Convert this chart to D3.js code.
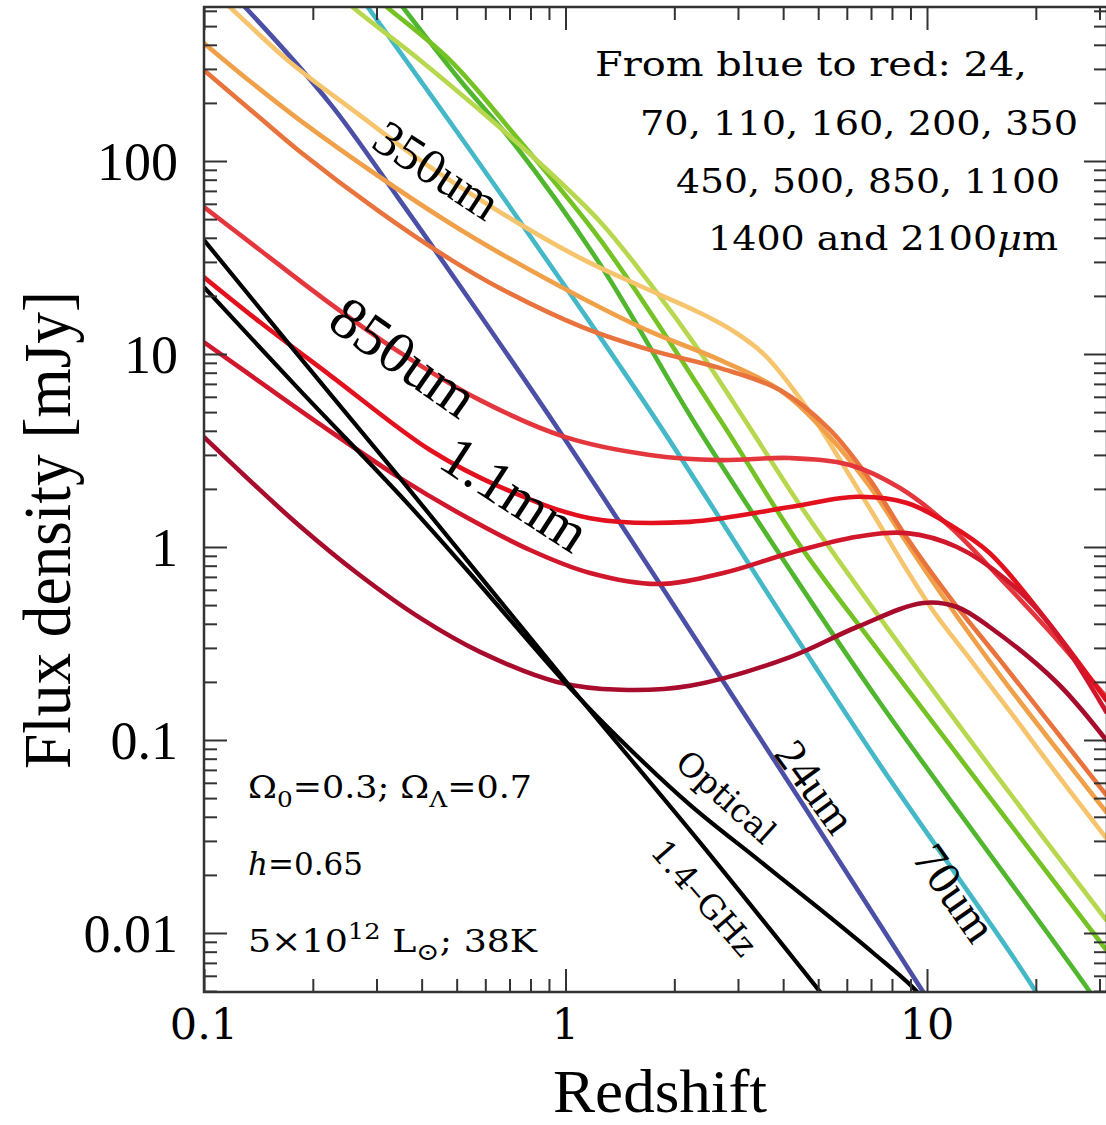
<!DOCTYPE html>
<html>
<head>
<meta charset="utf-8">
<script src="https://cdn.jsdelivr.net/npm/d3@7"></script>
<style>
  html, body { margin: 0; padding: 0; background: #fff; }
  svg { display: block; }
</style>
</head>
<body>
<svg id="chart" width="1106" height="1125"></svg>
<script>
// ---- Data: [redshift, flux density in mJy] ----
const bands = ["24", "70", "110", "160", "200", "350", "450", "500", "850", "1100", "1400", "2100"];
const bandColors = ["#4b4fa5", "#45b8c8", "#4fb62e", "#74c224", "#b7d74e", "#f7c46e",
                    "#f0a048", "#e9733c", "#e4373d", "#e2111d", "#d0172c", "#a70c2c"];

const s24   = [[0.1,1030],[0.130,626],[0.223,199],[0.348,62.7],[0.544,19.0],[0.966,3.94],[1.95,0.531],[4.45,0.049],[9.75,0.00496],[11,0.0035]];
const s70   = [[0.25,870],[0.284,626],[0.544,114],[1.05,19.5],[1.79,4.49],[4.18,0.380],[7.41,0.0743],[20.0,0.00496],[22,0.0035]];
const s110  = [[0.3,940],[0.355,626],[0.511,262],[0.725,121],[1.25,28.9],[2.25,4.55],[4.18,0.760],[7.41,0.156],[28.2,0.00496],[31.5,0.0036]];
const s160  = [[0.3,700],[0.321,626],[0.479,333],[0.725,136],[1.25,38.9],[2.68,4.55],[4.45,1.02],[7.41,0.283],[31.3,0.00818]];
const s200  = [[0.2,950],[0.258,626],[0.396,333],[0.580,183],[0.850,97.4],[1.25,48.2],[1.71,23.3],[2.36,10.2],[3.24,4.13],[4.45,1.65],[7.41,0.429],[15.9,0.0621],[31.3,0.0117]];
const s350  = [[0.1,830],[0.118,626],[0.173,325],[0.265,177],[0.396,101],[0.646,55.6],[1.10,31.4],[1.61,22.5],[2.36,16.3],[2.94,13.0],[3.56,9.87],[4.18,6.90],[4.90,4.55],[5.93,2.57],[7.18,1.43],[8.69,0.788],[10.5,0.455],[13.2,0.260],[17.0,0.140],[23.3,0.0636],[31.3,0.0311]];
const s450  = [[0.1,408],[0.134,259],[0.184,163],[0.307,82.4],[0.479,47.6],[0.659,33.3],[1.10,19.7],[1.71,13.1],[2.68,9.30],[3.92,6.50],[5.39,3.71],[6.96,2.05],[8.69,1.087],[11.1,0.551],[15.9,0.217],[31.3,0.0424]];
const s500  = [[0.1,295],[0.143,167],[0.184,112],[0.307,54.3],[0.479,31.0],[0.659,21.9],[1.10,13.9],[1.71,10.5],[2.68,8.45],[3.92,6.50],[5.39,4.04],[6.96,2.22],[8.69,1.154],[11.6,0.544],[15.9,0.260],[31.3,0.0520]];
const s850  = [[0.1,57.7],[0.143,34.5],[0.213,19.5],[0.348,10.2],[0.580,5.77],[1.00,3.71],[1.71,3.00],[2.68,2.82],[4.18,2.89],[6.12,2.66],[8.42,2.02],[11.6,1.27],[15.9,0.691],[21.9,0.363],[31.3,0.167]];
const s1100 = [[0.1,25.0],[0.143,14.6],[0.223,7.78],[0.422,3.18],[0.659,2.05],[1.17,1.41],[2.21,1.35],[4.18,1.61],[6.40,1.82],[8.80,1.69],[11.6,1.30],[14.9,0.931],[21.9,0.395],[31.3,0.161]];
const s1400 = [[0.1,11.5],[0.143,7.15],[0.213,4.23],[0.348,2.28],[0.501,1.52],[0.798,0.965],[1.17,0.733],[1.79,0.643],[2.73,0.733],[4.18,0.931],[6.40,1.13],[8.80,1.18],[12.1,1.00],[16.6,0.675],[21.9,0.395],[31.3,0.140]];
const s2100 = [[0.1,3.71],[0.143,1.97],[0.184,1.285],[0.265,0.733],[0.396,0.429],[0.580,0.286],[0.947,0.200],[1.42,0.182],[2.21,0.191],[4.18,0.269],[6.40,0.385],[9.75,0.513],[12.1,0.489],[14.9,0.385],[22.9,0.198],[31.3,0.100]];

const optical = [[0.1,22.2],[0.184,6.50],[0.348,1.86],[0.534,0.760],[1.01,0.193],[1.42,0.100],[2.21,0.0461],[3.39,0.0242],[5.16,0.0129],[7.09,0.0079],[9.27,0.00508],[10,0.0042]];
const radio   = [[0.1,38.9],[0.184,9.64],[0.348,2.28],[1.01,0.198],[2.36,0.0293],[5.06,0.00496],[5.6,0.0039]];

const bandSeries = [s24, s70, s110, s160, s200, s350, s450, s500, s850, s1100, s1400, s2100];

// Axis ticks
const xMajor = [0.1, 1, 10];
const xMinor = [0.2,0.3,0.4,0.5,0.6,0.7,0.8,0.9, 2,3,4,5,6,7,8,9, 20,30];
const yMajor = [0.01, 0.1, 1, 10, 100];
const yMinor = [0.005,0.006,0.007,0.008,0.009, 0.02,0.03,0.04,0.05,0.06,0.07,0.08,0.09,
                0.2,0.3,0.4,0.5,0.6,0.7,0.8,0.9, 2,3,4,5,6,7,8,9,
                20,30,40,50,60,70,80,90, 200,300,400,500,600];
const xTickLabels = ["0.1", "1", "10"];
const yTickLabels = ["0.01", "0.1", "1", "10", "100"];

// ---- Layout ----
const plot = { left: 204, right: 1107, top: 7, bottom: 992 };
const x = d3.scaleLog().domain([0.1, 31.47]).range([plot.left, plot.right]);
const y = d3.scaleLog().domain([0.004946, 628]).range([plot.bottom, plot.top]);

const svg = d3.select("#chart");

svg.append("defs").append("clipPath").attr("id", "plotClip")
  .append("rect")
  .attr("x", plot.left).attr("y", plot.top)
  .attr("width", plot.right - plot.left).attr("height", plot.bottom - plot.top);

// ---- Curves ----
const line = d3.line()
  .x(d => x(d[0]))
  .y(d => y(d[1]))
  .curve(d3.curveCatmullRom.alpha(0.5));

const curves = svg.append("g").attr("clip-path", "url(#plotClip)");

bandSeries.forEach((pts, i) => {
  curves.append("path")
    .datum(pts)
    .attr("d", line)
    .attr("fill", "none")
    .attr("stroke", bandColors[i])
    .attr("stroke-width", 4.6)
    .attr("stroke-linecap", "round");
});

[optical, radio].forEach(pts => {
  curves.append("path")
    .datum(pts)
    .attr("d", line)
    .attr("fill", "none")
    .attr("stroke", "#000")
    .attr("stroke-width", 4.2);
});

// ---- Axes (inward ticks on all four sides) ----
const tickColor = "#333";
function addAxis(axisFn, scale, values, size, transform) {
  const g = svg.append("g")
    .attr("transform", transform)
    .call(axisFn(scale).tickValues(values).tickSizeInner(size).tickSizeOuter(0).tickFormat(""));
  g.select(".domain").remove();
  g.selectAll(".tick line").attr("stroke", tickColor).attr("stroke-width", 2);
}
const MAJ = 23, MIN = 13;
addAxis(d3.axisBottom, x, xMajor, -MAJ, `translate(0,${plot.bottom})`);
addAxis(d3.axisBottom, x, xMinor, -MIN, `translate(0,${plot.bottom})`);
addAxis(d3.axisTop, x, xMajor, -MAJ, `translate(0,${plot.top})`);
addAxis(d3.axisTop, x, xMinor, -MIN, `translate(0,${plot.top})`);
addAxis(d3.axisLeft, y, yMajor, -MAJ, `translate(${plot.left},0)`);
addAxis(d3.axisLeft, y, yMinor, -MIN, `translate(${plot.left},0)`);
addAxis(d3.axisRight, y, yMajor, -MAJ, `translate(${plot.right},0)`);
addAxis(d3.axisRight, y, yMinor, -MIN, `translate(${plot.right},0)`);

svg.append("rect")
  .attr("x", plot.left).attr("y", plot.top)
  .attr("width", plot.right - plot.left).attr("height", plot.bottom - plot.top)
  .attr("fill", "none").attr("stroke", tickColor).attr("stroke-width", 2.5);

// Tick labels
svg.append("g").selectAll("text")
  .data(yMajor)
  .join("text")
  .attr("x", 178)
  .attr("y", d => y(d) + 19)
  .attr("text-anchor", "end")
  .attr("font-family", "'Liberation Serif', 'Times New Roman', serif")
  .attr("font-size", 54)
  .text((d, i) => yTickLabels[i]);

svg.append("g").selectAll("text")
  .data(xMajor)
  .join("text")
  .attr("x", d => x(d))
  .attr("y", 1039)
  .attr("text-anchor", "middle")
  .attr("font-family", "'DejaVu Serif', serif")
  .attr("font-size", 43)
  .text((d, i) => xTickLabels[i]);

// Axis titles
svg.append("text")
  .attr("transform", "translate(70,530) rotate(-90)")
  .attr("text-anchor", "middle")
  .attr("font-family", "'Liberation Serif', 'Times New Roman', serif")
  .attr("font-size", 68)
  .attr("textLength", 478)
  .attr("lengthAdjust", "spacingAndGlyphs")
  .text("Flux density [mJy]");

svg.append("text")
  .attr("x", 660).attr("y", 1112)
  .attr("text-anchor", "middle")
  .attr("font-family", "'Liberation Serif', 'Times New Roman', serif")
  .attr("font-size", 62)
  .attr("textLength", 214)
  .attr("lengthAdjust", "spacingAndGlyphs")
  .text("Redshift");

// ---- Curve labels ----
const timesLabels = [
  { t: "350um", cx: 437, cy: 170, a: 33, s: 50 },
  { t: "850um", cx: 404, cy: 357, a: 35, s: 59 },
  { t: "1.1mm", cx: 515, cy: 494, a: 33, s: 58 },
  { t: "24um",  cx: 815, cy: 787, a: 54, s: 45 },
  { t: "70um",  cx: 955, cy: 893, a: 55, s: 47 }
];
svg.append("g").selectAll("text")
  .data(timesLabels)
  .join("text")
  .attr("transform", d => `translate(${d.cx},${d.cy}) rotate(${d.a})`)
  .attr("text-anchor", "middle")
  .attr("dominant-baseline", "central")
  .attr("font-family", "'Liberation Serif', 'Times New Roman', serif")
  .attr("font-size", d => d.s)
  .text(d => d.t);

const monoLabels = [
  { t: "Optical", cx: 726, cy: 797, a: 42, s: 33 },
  { t: "1.4\u2013GHz", cx: 704, cy: 898, a: 49, s: 33 }
];
svg.append("g").selectAll("text")
  .data(monoLabels)
  .join("text")
  .attr("transform", d => `translate(${d.cx},${d.cy}) rotate(${d.a})`)
  .attr("text-anchor", "middle")
  .attr("dominant-baseline", "central")
  .attr("font-family", "'DejaVu Serif', serif")
  .attr("font-size", d => d.s)
  .text(d => d.t);

// ---- Notes: band list (top right) ----
const noteFont = "'DejaVu Serif', serif";
const bandNote = [
  { t: "From blue to red: 24,", x0: 595, base: 76, w: 432 },
  { t: "70, 110, 160, 200, 350", x0: 640, base: 135, w: 438 },
  { t: "450, 500, 850, 1100", x0: 676, base: 193, w: 384 }
];
bandNote.forEach(d => {
  svg.append("text")
    .attr("x", d.x0).attr("y", d.base)
    .attr("font-family", noteFont).attr("font-size", 34)
    .attr("textLength", d.w).attr("lengthAdjust", "spacingAndGlyphs")
    .text(d.t);
});
{
  const t = svg.append("text")
    .attr("x", 708).attr("y", 250)
    .attr("font-family", noteFont).attr("font-size", 34)
    .attr("textLength", 350).attr("lengthAdjust", "spacingAndGlyphs");
  t.append("tspan").text("1400 and 2100");
  t.append("tspan").attr("font-style", "italic").text("\u03bc");
  t.append("tspan").text("m");
}

// ---- Notes: cosmology (bottom left) ----
{
  const fs = 31;
  const t1 = svg.append("text").attr("x", 248).attr("y", 798)
    .attr("font-family", noteFont).attr("font-size", fs)
    .attr("textLength", 284).attr("lengthAdjust", "spacingAndGlyphs");
  t1.append("tspan").text("\u03a9");
  t1.append("tspan").attr("dy", 9).attr("font-size", 22).text("0");
  t1.append("tspan").attr("dy", -9).text("=0.3; \u03a9");
  t1.append("tspan").attr("dy", 9).attr("font-size", 22).text("\u039b");
  t1.append("tspan").attr("dy", -9).text("=0.7");

  const t2 = svg.append("text").attr("x", 248).attr("y", 875)
    .attr("font-family", noteFont).attr("font-size", fs);
  t2.append("tspan").attr("font-style", "italic").text("h");
  t2.append("tspan").text("=0.65");

  const t3 = svg.append("text").attr("x", 248).attr("y", 952)
    .attr("font-family", noteFont).attr("font-size", fs)
    .attr("textLength", 289).attr("lengthAdjust", "spacingAndGlyphs");
  t3.append("tspan").text("5\u00d710");
  t3.append("tspan").attr("dy", -13).attr("font-size", 22).text("12");
  t3.append("tspan").attr("dy", 13).text(" L");
  t3.append("tspan").attr("dy", 8).attr("font-size", 24).text("\u2299");
  t3.append("tspan").attr("dy", -8).text("; 38K");
}
</script>
</body>
</html>
